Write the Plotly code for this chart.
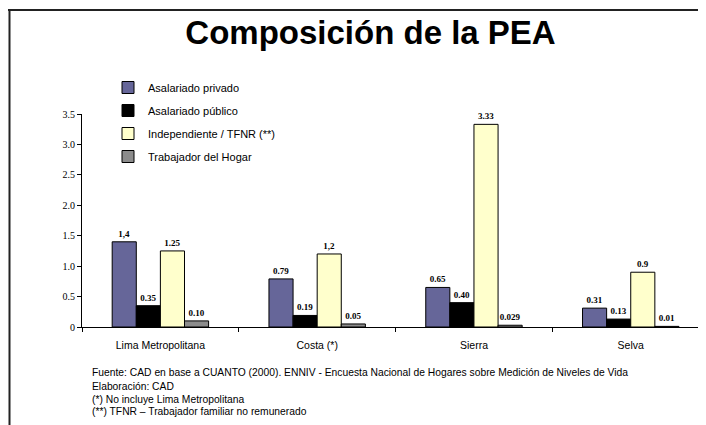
import plotly.graph_objects as go

categories = ["Lima Metropolitana", "Costa (*)", "Sierra", "Selva"]
series_names = ["Asalariado privado", "Asalariado público", "Independiente / TFNR (**)", "Trabajador del Hogar"]
asal_privado = [1.4, 0.79, 0.65, 0.31]
asal_publico = [0.35, 0.19, 0.40, 0.13]
independiente = [1.25, 1.2, 3.33, 0.9]
trab_hogar = [0.10, 0.05, 0.029, 0.01]
labels_privado = ["1,4", "0.79", "0.65", "0.31"]
labels_publico = ["0.35", "0.19", "0.40", "0.13"]
labels_indep = ["1.25", "1,2", "3.33", "0.9"]
labels_hogar = ["0.10", "0.05", "0.029", "0.01"]
y_tickvals = [0, 0.5, 1.0, 1.5, 2.0, 2.5, 3.0, 3.5]
y_ticktext = ["0", "0.5", "1.0", "1.5", "2.0", "2.5", "3.0", "3.5"]
title_text = "Composición de la PEA"
footnotes = [
    "Fuente: CAD en base a CUANTO (2000). ENNIV - Encuesta Nacional de Hogares sobre Medición de Niveles de Vida",
    "Elaboración: CAD",
    "(*) No incluye Lima Metropolitana",
    "(**) TFNR – Trabajador familiar no remunerado",
]

colors = ["#666699", "#000000", "#FFFFCC", "#8C8C8C"]
all_vals = [asal_privado, asal_publico, independiente, trab_hogar]
all_labels = [labels_privado, labels_publico, labels_indep, labels_hogar]

fig = go.Figure()
for i in range(4):
    fig.add_trace(go.Bar(
        x=categories, y=all_vals[i], name=series_names[i],
        marker=dict(color=colors[i], line=dict(color="#000000", width=1)),
        text=all_labels[i], texttemplate="<b>%{text}</b>",
        textposition="outside", cliponaxis=False,
        textfont=dict(family="Liberation Serif", size=9, color="#000000"),
        legendgroup=str(i),
    ))

# page body has an 8px margin: figure pixel = reference pixel - 8
OFF = 8
W, H = 706 - OFF, 425 - OFF
L, R, T, B = 82 - OFF, 0, 114 - OFF, 425 - 327
pw = W - L - R
ph = H - T - B

def px(x):
    return (x - OFF - L) / pw

def py(y):
    return (H - B - (y - OFF)) / ph

annotations = []
for txt, ypix in zip(footnotes, [372, 386, 399, 411]):
    annotations.append(dict(
        text=txt, xref="paper", yref="paper", x=px(90), y=py(ypix),
        xanchor="left", yanchor="middle", showarrow=False,
        font=dict(family="Liberation Sans", size=10.3, color="#000000"),
    ))

shapes = [
    dict(type="line", xref="paper", yref="paper", x0=px(8), x1=px(712), y0=py(10), y1=py(10),
         line=dict(color="#222222", width=2)),
    dict(type="line", xref="paper", yref="paper", x0=px(9.5), x1=px(9.5), y0=py(10), y1=py(430),
         line=dict(color="#222222", width=2)),
]

fig.update_layout(
    width=W, height=H,
    margin=dict(l=L, r=R, t=T, b=B, pad=0),
    paper_bgcolor="white", plot_bgcolor="white",
    barmode="group", bargap=0.385, bargroupgap=0,
    title=dict(text="<b>" + title_text + "</b>", x=(370.5 - OFF) / W, xanchor="center",
               y=(H - (32 - OFF)) / H, yanchor="middle", xref="container", yref="container",
               font=dict(family="Liberation Sans", size=33, color="#000000")),
    legend=dict(x=px(108), y=py(73), xanchor="left", yanchor="top",
                font=dict(family="Liberation Sans", size=11, color="#000000"),
                bgcolor="rgba(0,0,0,0)", tracegroupgap=4, itemwidth=30),
    xaxis=dict(type="category", range=[-0.5, 3.48], showline=True, linecolor="#000000", linewidth=1,
               ticks="outside", tickson="boundaries", ticklen=4, tickcolor="#000000",
               ticklabelstandoff=8,
               showgrid=False, zeroline=False,
               tickfont=dict(family="Liberation Sans", size=10.5, color="#000000")),
    yaxis=dict(range=[0, 3.5], tickvals=y_tickvals, ticktext=y_ticktext,
               showline=True, linecolor="#000000", linewidth=1,
               ticks="outside", ticklen=4, tickcolor="#000000",
               showgrid=False, zeroline=False,
               tickfont=dict(family="Liberation Serif", size=10, color="#000000")),
    annotations=annotations, shapes=shapes,
)

fig.write_html("out.html")
